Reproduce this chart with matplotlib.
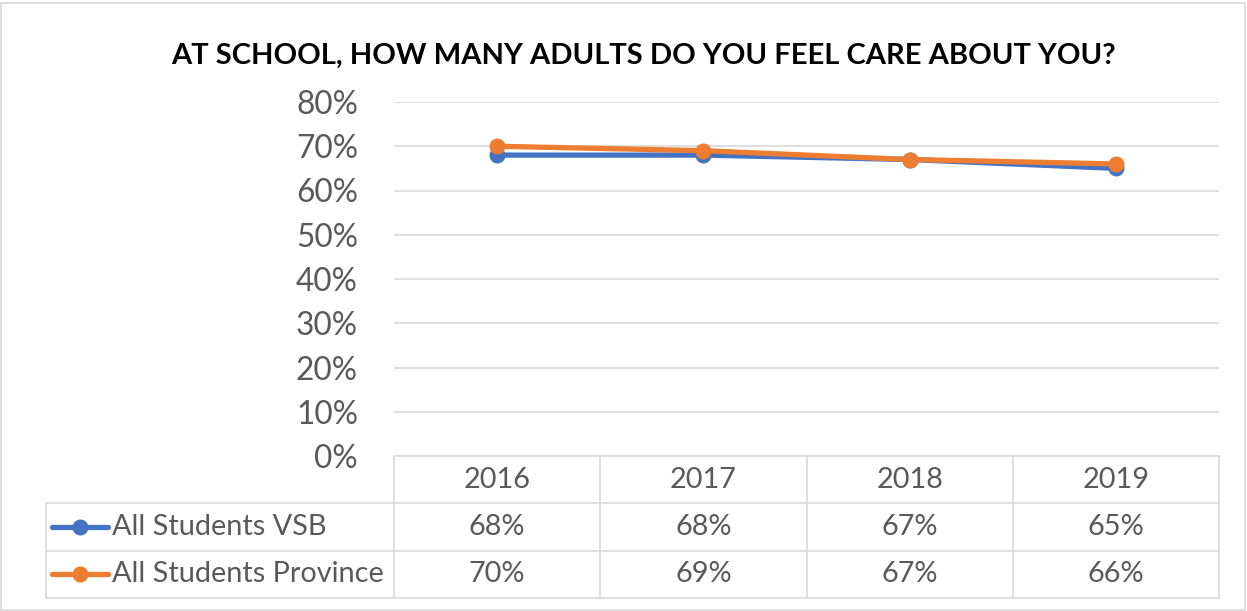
import matplotlib
matplotlib.use("Agg")
import matplotlib.pyplot as plt
from matplotlib.patches import Rectangle
from matplotlib.ticker import PercentFormatter

years = ["2016", "2017", "2018", "2019"]
vsb = [0.68, 0.68, 0.67, 0.65]
province = [0.70, 0.69, 0.67, 0.66]
series_names = ["All Students VSB", "All Students Province"]
series_colors = ["#4472C4", "#ED7D31"]
title = "AT SCHOOL, HOW MANY ADULTS DO YOU FEEL CARE ABOUT YOU?"

plt.rcParams['font.family'] = ['Lato', 'DejaVu Sans']
text_col = "#595959"
grid_col = "#d9d9d9"

W, H = 1247, 611
fig = plt.figure(figsize=(W / 100, H / 100), dpi=100)

def px_box(x0, y0, x1, y1):
    # pixel box (top-left origin) -> figure fraction rect
    return [x0 / W, 1 - y1 / H, (x1 - x0) / W, (y1 - y0) / H]

# outer chart border
fig.patches.append(Rectangle((1 / W, 1 / H), (W - 3) / W, (H - 4) / H,
                             transform=fig.transFigure, fill=False,
                             edgecolor=grid_col, linewidth=1.2))

fig.text(643 / W, 1 - 56 / H, title, ha='center', va='center',
         fontsize=21, fontweight='bold', color='black')

# main plot
ax = fig.add_axes(px_box(394, 102, 1219, 456))
x = list(range(len(years)))
all_series = [vsb, province]
for vals, col in zip(all_series, series_colors):
    ax.plot(x, vals, color=col, linewidth=3.8, marker='o', markersize=10.5,
            solid_capstyle='round', zorder=3)
ax.set_xlim(-0.5, len(years) - 0.5)
ax.set_ylim(0, 0.8)
ax.set_yticks([i / 10 for i in range(9)])
ax.yaxis.set_major_formatter(PercentFormatter(1.0, decimals=0))
ax.tick_params(axis='y', length=0, pad=26, labelsize=22.8, labelcolor=text_col)
ax.set_xticks([])
ax.grid(axis='y', color=grid_col, linewidth=1.2)
ax.set_axisbelow(True)
for s in ax.spines.values():
    s.set_visible(False)

# data table below
left_px = 46
unit = (1219 - 394) / len(years)
tax = fig.add_axes(px_box(left_px, 456, 1219, 598))
x_left = -0.5 - (394 - left_px) / unit
tax.set_xlim(x_left, len(years) - 0.5)
tax.set_ylim(3, 0)
tax.axis('off')

lw = 1.2
# horizontal lines
tax.plot([-0.5, len(years) - 0.5], [0, 0], color=grid_col, lw=lw, clip_on=False)
for yy in [1, 2, 3]:
    tax.plot([x_left, len(years) - 0.5], [yy, yy], color=grid_col, lw=lw, clip_on=False)
# vertical lines
for i in range(len(years) + 1):
    tax.plot([i - 0.5, i - 0.5], [0, 3], color=grid_col, lw=lw, clip_on=False)
tax.plot([x_left, x_left], [1, 3], color=grid_col, lw=lw, clip_on=False)

tsize = 20.8
for i, yr in enumerate(years):
    tax.text(i, 0.5, yr, ha='center', va='center', fontsize=tsize, color=text_col)
for r, (vals, name, col) in enumerate(zip(all_series, series_names, series_colors)):
    yy = r + 1.5
    for i, v in enumerate(vals):
        tax.text(i, yy, f"{v:.0%}", ha='center', va='center', fontsize=tsize, color=text_col)
    lx0 = x_left + 6 / unit
    lx1 = x_left + 62 / unit
    tax.plot([lx0, lx1], [yy, yy], color=col, lw=3.8, solid_capstyle='round', clip_on=False)
    tax.plot([(lx0 + lx1) / 2], [yy], marker='o', color=col, markersize=10.5, clip_on=False)
    tax.text(x_left + 66 / unit, yy, name, ha='left', va='center', fontsize=tsize, color=text_col)

fig.savefig("out.png", dpi=100)
